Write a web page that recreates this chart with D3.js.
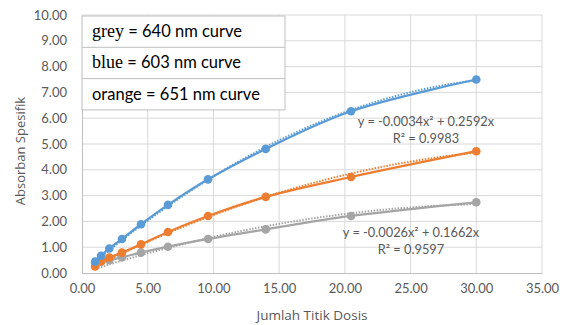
<!DOCTYPE html>
<html>
<head>
<meta charset="utf-8">
<script src="https://cdn.jsdelivr.net/npm/d3@7/dist/d3.min.js"></script>
<style>
  body { margin: 0; background: #fff; }
  text { font-family: Lato, "Open Sans", sans-serif; }
</style>
</head>
<body>
<div id="vizContainer"></div>
<script>
// data
const dose = [1.0, 1.45, 2.08, 3.04, 4.49, 6.54, 9.59, 13.98, 20.47, 30.0];
const blue603 = [0.44, 0.67, 0.95, 1.32, 1.89, 2.64, 3.63, 4.81, 6.27, 7.50];
const orange651 = [0.25, 0.45, 0.60, 0.79, 1.11, 1.59, 2.21, 2.95, 3.72, 4.72];
const grey640 = [0.40, 0.45, 0.50, 0.61, 0.79, 1.02, 1.32, 1.69, 2.21, 2.74];
const xTicks = [0, 5, 10, 15, 20, 25, 30, 35];
const yTicks = [0, 1, 2, 3, 4, 5, 6, 7, 8, 9, 10];
const legendRows = [
  { word: "grey", rest: " = 640 nm curve", serif: true },
  { word: "blue", rest: " = 603 nm curve", serif: true },
  { word: "orange", rest: " = 651 nm curve", serif: false }
];
const eqBlue = ["y = -0.0034x² + 0.2592x", "R² = 0.9983"];
const eqGrey = ["y = -0.0026x² + 0.1662x", "R² = 0.9597"];

const width = 565, height = 325;
const pLeft = 82, pRight = 542, pTop = 15, pBottom = 273;

const svg = d3.select("#vizContainer").append("svg")
  .attr("width", width).attr("height", height);

const x = d3.scaleLinear().domain([0, 35]).range([pLeft, pRight]);
const y = d3.scaleLinear().domain([0, 10]).range([pBottom, pTop]);

// grid
svg.append("g").selectAll("line").data(yTicks.slice(1)).enter().append("line")
  .attr("x1", pLeft).attr("x2", pRight)
  .attr("y1", d => y(d)).attr("y2", d => y(d))
  .attr("stroke", "#d9d9d9").attr("stroke-width", 1);
svg.append("g").selectAll("line").data(xTicks.slice(1)).enter().append("line")
  .attr("x1", d => x(d)).attr("x2", d => x(d))
  .attr("y1", pTop).attr("y2", pBottom)
  .attr("stroke", "#d9d9d9").attr("stroke-width", 1);

// axes
const xAxis = svg.append("g").attr("transform", `translate(0,${pBottom})`)
  .call(d3.axisBottom(x).tickValues(xTicks).tickFormat(d3.format(".2f")).tickSize(0).tickPadding(11));
const yAxis = svg.append("g").attr("transform", `translate(${pLeft},0)`)
  .call(d3.axisLeft(y).tickValues(yTicks).tickFormat(d3.format(".2f")).tickSize(0).tickPadding(15));
[xAxis, yAxis].forEach(a => {
  a.select(".domain").attr("stroke", "#bfbfbf").attr("stroke-width", 1);
  a.selectAll("text").attr("fill", "#595959").style("font-size", "13px")
    .style("font-family", "Lato, sans-serif");
});

svg.append("text").attr("x", 312).attr("y", 320)
  .attr("text-anchor", "middle").attr("fill", "#595959")
  .style("font-size", "13.5px").style("font-family", "'Open Sans', sans-serif")
  .text("Jumlah Titik Dosis");
svg.append("text").attr("transform", "translate(25,151) rotate(-90)")
  .attr("text-anchor", "middle").attr("fill", "#595959")
  .style("font-size", "13px").style("font-family", "'Open Sans', sans-serif")
  .text("Absorban Spesifik");

// least squares fit y = a x^2 + b x (through origin)
function fit(xs, ys) {
  let s4 = 0, s3 = 0, s2 = 0, sx2y = 0, sxy = 0;
  xs.forEach((v, i) => {
    s4 += v ** 4; s3 += v ** 3; s2 += v ** 2;
    sx2y += v * v * ys[i]; sxy += v * ys[i];
  });
  const det = s4 * s2 - s3 * s3;
  const a = (sx2y * s2 - s3 * sxy) / det;
  const b = (s4 * sxy - s3 * sx2y) / det;
  return t => a * t * t + b * t;
}

const series = [
  { vals: grey640, color: "#a5a5a5" },
  { vals: orange651, color: "#ed7d31" },
  { vals: blue603, color: "#5b9bd5" }
];

const line = d3.line().x(d => x(d[0])).y(d => y(d[1])).curve(d3.curveCatmullRom);

series.forEach(s => {
  const pts = dose.map((d, i) => [d, s.vals[i]]);
  const f = fit(dose, s.vals);
  const trend = d3.range(1, 30.01, 0.5).map(t => [t, f(t)]);
  svg.append("path").datum(trend)
    .attr("d", d3.line().x(d => x(d[0])).y(d => y(d[1])))
    .attr("fill", "none").attr("stroke", s.color).attr("stroke-width", 2)
    .attr("stroke-dasharray", "1.5,1.5");
  svg.append("path").datum(pts).attr("d", line)
    .attr("fill", "none").attr("stroke", s.color).attr("stroke-width", 2.25);
  svg.append("g").selectAll("circle").data(pts).enter().append("circle")
    .attr("cx", d => x(d[0])).attr("cy", d => y(d[1])).attr("r", 4.3)
    .attr("fill", s.color);
});

// equation labels
function eq(lines, cx, cy) {
  svg.append("g").selectAll("text").data(lines).enter().append("text")
    .attr("x", cx).attr("y", (d, i) => cy + i * 17)
    .attr("text-anchor", "middle").attr("fill", "#595959").style("font-size", "12.8px")
    .text(d => d);
}
eq(eqBlue, 426, 126);
eq(eqGrey, 411, 237);

// legend-like box
const boxTop = 16, rowH = 31.3;
const lg = svg.append("g");
lg.append("rect").attr("x", pLeft).attr("y", boxTop).attr("width", 203).attr("height", rowH * 3)
  .attr("fill", "#fff").attr("stroke", "#bfbfbf");
legendRows.forEach((r, i) => {
  if (i > 0) lg.append("line").attr("x1", pLeft).attr("x2", pLeft + 203)
    .attr("y1", boxTop + rowH * i).attr("y2", boxTop + rowH * i).attr("stroke", "#bfbfbf");
  const t = lg.append("text").attr("x", 92).attr("y", boxTop + rowH * i + 21)
    .attr("fill", "#000").style("font-size", "16.5px");
  t.append("tspan")
    .style("font-family", r.serif ? "'Liberation Serif', serif" : "Lato, sans-serif")
    .style("font-size", r.serif ? "18px" : null)
    .text(r.word);
  t.append("tspan").text(r.rest);
});
</script>
</body>
</html>
